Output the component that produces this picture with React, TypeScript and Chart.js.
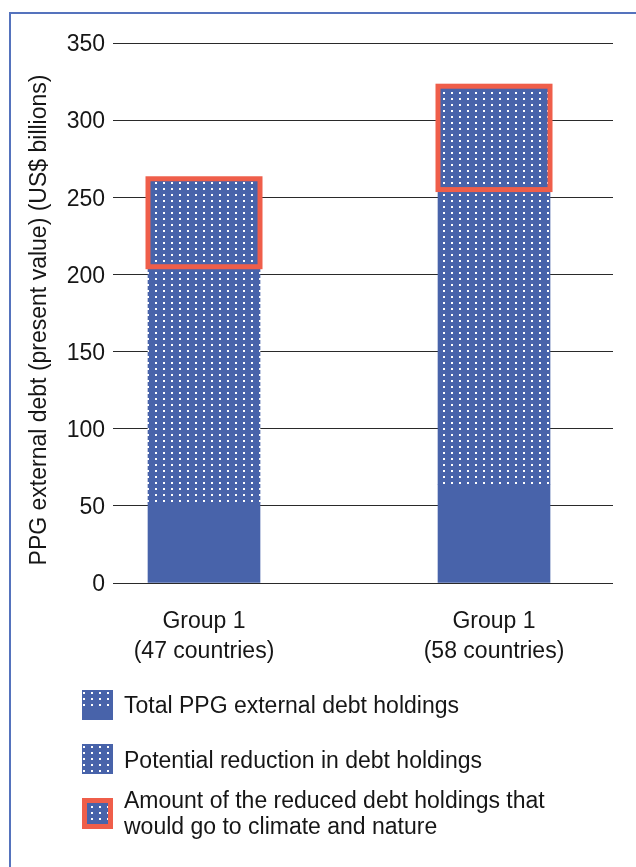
import React, { useEffect, useRef } from 'react';
import { Chart, registerables } from 'chart.js';

Chart.register(...registerables);

// ---- data ----
const categories: string[][] = [
  ['Group 1', '(47 countries)'],
  ['Group 1', '(58 countries)'],
];
const totalDebt = [262, 322];            // top of each bar (US$ bn)
const remainingDebt = [52, 64];          // solid part (after reduction)
const climateNatureFrom = [205, 255];    // lower edge of the red box
const yTicks = [0, 50, 100, 150, 200, 250, 300, 350];
const yTitle = 'PPG external debt (present value) (US$ billions)';
const legendTotal = 'Total PPG external debt holdings';
const legendReduction = 'Potential reduction in debt holdings';
const legendClimate = ['Amount of the reduced debt holdings that', 'would go to climate and nature'];

// ---- styles ----
const BLUE = '#4863aa';
const RED = '#ef5e4a';
const FRAME = '#5573bd';
const TEXT = '#161616';
const FONT = '"Liberation Sans", Arial, Helvetica, sans-serif';
const FS = 23;

function makePattern(): CanvasPattern | string {
  const c = document.createElement('canvas');
  c.width = 8;
  c.height = 6;
  const g = c.getContext('2d');
  if (!g) return BLUE;
  g.fillStyle = BLUE;
  g.fillRect(0, 0, 8, 6);
  g.fillStyle = '#ffffff';
  g.fillRect(3, 2, 2, 2);
  const p = g.createPattern(c, 'repeat');
  return p || BLUE;
}

export default function App() {
  const ref = useRef<HTMLCanvasElement | null>(null);

  useEffect(() => {
    const canvas = ref.current;
    if (!canvas) return;
    const pattern = makePattern();

    const framePlugin = {
      id: 'framePlugin',
      beforeDraw(chart: any) {
        const ctx = chart.ctx;
        ctx.save();
        ctx.fillStyle = '#ffffff';
        ctx.fillRect(0, 0, chart.width, chart.height);
        ctx.strokeStyle = FRAME;
        ctx.lineWidth = 2;
        ctx.beginPath();
        ctx.moveTo(10, chart.height);
        ctx.lineTo(10, 13);
        ctx.lineTo(chart.width, 13);
        ctx.stroke();
        ctx.restore();
      },
      afterDraw(chart: any) {
        // y-axis title
        const ctx = chart.ctx;
        const a = chart.chartArea;
        ctx.save();
        ctx.translate(40, (a.top + a.bottom) / 2 + 7);
        ctx.rotate(-Math.PI / 2);
        ctx.fillStyle = TEXT;
        ctx.font = `${FS}px ${FONT}`;
        ctx.textAlign = 'center';
        ctx.textBaseline = 'middle';
        ctx.fillText(yTitle, 0, 0);
        ctx.restore();
      },
    };

    const boxPlugin = {
      id: 'boxPlugin',
      afterDatasetsDraw(chart: any) {
        const ctx = chart.ctx;
        const meta = chart.getDatasetMeta(0);
        ctx.save();
        ctx.strokeStyle = RED;
        ctx.lineWidth = 5;
        meta.data.forEach((el: any) => {
          const { x, y, base, width } = el.getProps(['x', 'y', 'base', 'width'], true);
          ctx.strokeRect(x - width / 2, y, width, base - y);
        });
        ctx.restore();
      },
    };

    const legendPlugin = {
      id: 'legendPlugin',
      afterDraw(chart: any) {
        const ctx = chart.ctx;
        ctx.save();
        // icon 1: total (dotted top, solid bottom)
        ctx.fillStyle = pattern;
        ctx.fillRect(82, 690, 31, 30);
        ctx.fillStyle = BLUE;
        ctx.fillRect(82, 708, 31, 12);
        // icon 2: reduction (dotted)
        ctx.fillStyle = pattern;
        ctx.fillRect(82, 744, 31, 30);
        // icon 3: red box
        ctx.fillStyle = pattern;
        ctx.fillRect(82, 798, 31, 31);
        ctx.strokeStyle = RED;
        ctx.lineWidth = 5;
        ctx.strokeRect(84.5, 800.5, 26, 26);

        ctx.fillStyle = TEXT;
        ctx.font = `${FS}px ${FONT}`;
        ctx.textBaseline = 'middle';
        ctx.textAlign = 'left';
        ctx.fillText(legendTotal, 124, 707);
        ctx.fillText(legendReduction, 124, 762);
        ctx.fillText(legendClimate[0], 124, 802);
        ctx.fillText(legendClimate[1], 124, 828);
        ctx.restore();
      },
    };

    const chart = new Chart(canvas, {
      type: 'bar',
      data: {
        datasets: [
          {
            label: legendClimate.join(' '),
            data: categories.map((_, i) => ({ x: i, y: [climateNatureFrom[i], totalDebt[i]] })) as any,
            backgroundColor: 'rgba(0,0,0,0)',
            borderWidth: 0,
            grouped: false,
            barThickness: 112,
            order: 0,
          } as any,
          {
            label: legendReduction,
            data: categories.map((_, i) => ({ x: i, y: [remainingDebt[i], totalDebt[i]] })) as any,
            backgroundColor: pattern as any,
            borderWidth: 0,
            grouped: false,
            barThickness: 112,
            order: 1,
          } as any,
          {
            label: legendTotal,
            data: categories.map((_, i) => ({ x: i, y: [0, remainingDebt[i]] })) as any,
            backgroundColor: BLUE,
            borderWidth: 0,
            grouped: false,
            barThickness: 112,
            order: 2,
          } as any,
        ],
      },
      options: {
        responsive: false,
        animation: false,
        devicePixelRatio: 1,
        layout: { padding: { left: 0, right: 23, top: 43, bottom: 0 } },
        plugins: {
          legend: { display: false },
          tooltip: { enabled: false },
        },
        scales: {
          x: {
            type: 'linear',
            offset: false,
            min: -0.3138,
            max: 1.4103,
            grid: { display: false, offset: false },
            border: { display: false },
            afterBuildTicks: (s: any) => {
              s.ticks = categories.map((_, i) => ({ value: i }));
            },
            afterFit: (s: any) => {
              s.height = 284;
            },
            ticks: {
              autoSkip: false,
              maxRotation: 0,
              padding: 16,
              color: TEXT,
              font: { family: FONT, size: FS, lineHeight: 1.3 },
              callback: (v: any) => categories[Math.round(Number(v))] || '',
            },
          } as any,
          y: {
            type: 'linear',
            min: 0,
            max: 350,
            afterBuildTicks: (s: any) => {
              s.ticks = yTicks.map((v) => ({ value: v }));
            },
            afterFit: (s: any) => {
              s.width = 113;
            },
            grid: { color: '#2a2a2a', lineWidth: 1, drawTicks: false },
            border: { display: false },
            ticks: {
              padding: 8,
              labelOffset: 2,
              color: TEXT,
              font: { family: FONT, size: FS },
            },
            title: { display: false },
          } as any,
        },
      } as any,
      plugins: [framePlugin, boxPlugin, legendPlugin],
    });

    return () => chart.destroy();
  }, []);

  return (
    <div style={{ position: 'absolute', left: 0, top: 0, width: 636, height: 867, overflow: 'hidden' }}>
      <canvas ref={ref} width={636} height={867} style={{ display: 'block', width: 636, height: 867 }} />
    </div>
  );
}
